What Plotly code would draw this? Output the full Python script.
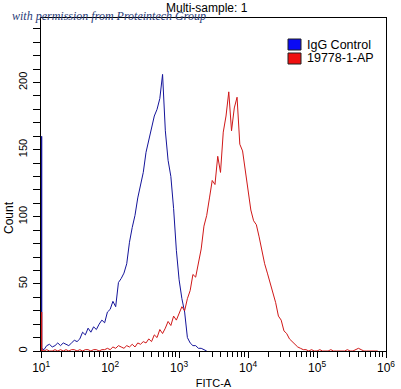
import numpy as np
import plotly.graph_objects as go

# ---------------- data ----------------
series_names = ["IgG Control", "19778-1-AP"]
series_colors = ["#14149a", "#d01818"]
swatch_colors = ["#0a0af5", "#f01010"]

log_start = 1.0      # first histogram channel, log10(FITC-A)
log_step = 0.04      # channel width in decades

# counts per channel (IgG Control), starting at 10^1
blue_counts = [2, 1, 4, 5, 3, 4, 6, 4, 6, 5, 4, 6, 8, 7, 9, 14, 12, 17, 14, 18,
               16, 20, 23, 21, 29, 31, 37, 33, 51, 54, 58, 65, 81, 92, 101, 114,
               124, 133, 148, 157, 166, 175, 180, 188, 206, 164, 142, 130, 106,
               75, 53, 39, 29, 10, 6, 4, 4, 2, 2, 1, 0]
# counts per channel (19778-1-AP), starting at 10^1
red_counts = [1, 0, 1, 0, 0, 1, 0, 1, 0, 1, 0, 1, 1, 0, 1, 0, 1, 1, 0, 1, 1, 0, 1, 1,
              2, 1, 3, 2, 4, 3, 2, 4, 3, 5, 3, 6, 5, 7, 6, 9, 7, 12, 10, 16, 13, 17,
              22, 19, 26, 23, 28, 33, 30, 39, 45, 57, 55, 67, 76, 93, 101, 114, 127,
              124, 145, 133, 163, 175, 193, 164, 181, 189, 154, 149, 135, 120, 105,
              97, 94, 85, 74, 65, 58, 51, 44, 36, 26, 23, 15, 13, 9, 7, 5, 3, 2, 1,
              1, 0, 1, 0, 0, 1, 0, 0, 0, 1, 0, 0, 0, 0, 0, 1, 0, 0, 1, 2, 1, 0, 0,
              0, 0, 0, 0]
# events piled up in the very first channel (drawn along the left axis)
blue_first_channel = 160
red_first_channel = 29

x_tick_vals = [1e1, 1e2, 1e3, 1e4, 1e5, 1e6]
x_tick_text = ["10<sup>1</sup>", "10<sup>2</sup>", "10<sup>3</sup>",
               "10<sup>4</sup>", "10<sup>5</sup>", "10<sup>6</sup>"]
y_tick_vals = [0, 50, 100, 150, 200]

title_text = "Multi-sample: 1"
watermark_text = "with permission from Proteintech Group"
x_title = "FITC-A"
y_title = "Count"

# ---------------- figure ----------------
W, H = 401, 389
ML, MR, MT, MB = 41, 15, 18, 38
PW, PH = W - ML - MR, H - MT - MB


def px(x):
    return (x - ML) / PW


def py(y):
    return (H - MB - y) / PH


fig = go.Figure()
for counts, first, color in [(blue_counts, blue_first_channel, series_colors[0]),
                             (red_counts, red_first_channel, series_colors[1])]:
    logs = log_start + log_step * np.arange(len(counts))
    xs = np.concatenate([[10 ** log_start], 10 ** logs])
    ys = np.concatenate([[first], counts])
    fig.add_trace(go.Scatter(x=xs, y=ys, mode="lines",
                             line=dict(color=color, width=1), showlegend=False,
                             hoverinfo="skip"))
    # the first-channel pile-up, drawn along the left axis
    fig.add_trace(go.Scatter(x=xs[:2], y=[0, first], mode="lines",
                             line=dict(color=color, width=2.2), showlegend=False,
                             hoverinfo="skip"))

minor_x = [m * 10 ** d for d in range(1, 6) for m in range(2, 10)]

fig.update_xaxes(type="log", range=[0.997, 6], tickvals=x_tick_vals,
                 ticktext=x_tick_text, ticks="outside", ticklen=6, tickwidth=1,
                 tickcolor="black", showline=True, linecolor="black", linewidth=1,
                 mirror=True, showgrid=False, zeroline=False, layer="below traces",
                 automargin=False,
                 tickfont=dict(family="Liberation Sans", size=12, color="black"),
                 minor=dict(tickvals=minor_x, ticks="outside", ticklen=5,
                            tickcolor="black", showgrid=False),
                 title=dict(text=x_title, standoff=4,
                            font=dict(family="Liberation Sans", size=11, color="black")))
fig.update_yaxes(range=[0, 248], tickvals=y_tick_vals, tickangle=-90,
                 ticks="outside", ticklen=7, tickwidth=1, tickcolor="black",
                 showline=True, linecolor="black", linewidth=1, mirror=True,
                 showgrid=False, zeroline=False, layer="below traces",
                 ticklabelstandoff=2, automargin=False,
                 tickfont=dict(family="Liberation Sans", size=11, color="black"),
                 minor=dict(dtick=10, ticks="outside", ticklen=7, tickcolor="black",
                            showgrid=False))

annotations = [
    dict(text=title_text, x=px(207), y=py(8), xref="paper", yref="paper",
         showarrow=False, xanchor="center", yanchor="middle",
         font=dict(family="Liberation Sans", size=12, color="black")),
    dict(text="<i>" + watermark_text + "</i>", x=px(10), y=py(16), xref="paper",
         yref="paper", showarrow=False, xanchor="left", yanchor="middle",
         font=dict(family="Liberation Serif", size=12, color="#2a3c78")),
    dict(text=y_title, x=px(9), y=py(218), xref="paper", yref="paper",
         showarrow=False, textangle=-90, xanchor="center", yanchor="middle",
         font=dict(family="Liberation Sans", size=12, color="black")),
]
shapes = []
for i, name in enumerate(series_names):
    top = 39 + i * 14
    shapes.append(dict(type="rect", xref="paper", yref="paper",
                       x0=px(288), x1=px(301), y0=py(top + 11), y1=py(top),
                       fillcolor=swatch_colors[i], line=dict(color="#202020", width=1)))
    annotations.append(dict(text=name, x=px(305), y=py(top + 5.5), xref="paper",
                            yref="paper", showarrow=False, xanchor="left",
                            yanchor="middle",
                            font=dict(family="Liberation Sans", size=12.5,
                                      color="black")))

fig.update_layout(width=W, height=H, margin=dict(l=ML, r=MR, t=MT, b=MB,
                                                  autoexpand=False),
                  paper_bgcolor="white", plot_bgcolor="white",
                  annotations=annotations, shapes=shapes, showlegend=False)

fig.write_html("out.html", config={"displayModeBar": False, "staticPlot": True},
               post_script="document.body.style.margin='0';"
                           "document.body.style.overflow='hidden';")
